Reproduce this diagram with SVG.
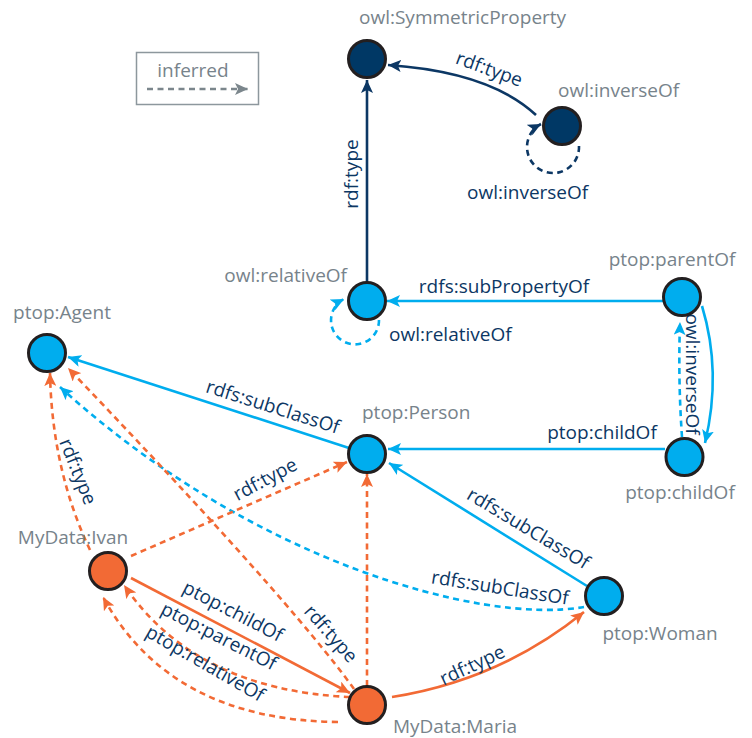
<svg xmlns="http://www.w3.org/2000/svg" width="752" height="738" viewBox="0 0 752 738">
<style>
text{font-family:"Open Sans","Noto Sans","Liberation Sans",sans-serif;font-size:19px}
.nl{fill:#77838b}
.el{fill:#0c3764}
.node{stroke:#231f20;stroke-width:3}
.navy{fill:#003865}
.blue{fill:#00adee}
.orange{fill:#f26a35}
.e{fill:none;stroke-width:2.6}
.d{stroke-dasharray:6 4.5}
.cn{stroke:#0c3764}
.cb{stroke:#00adee}
.co{stroke:#f26a35}
</style>
<defs>
<marker id="an" markerUnits="userSpaceOnUse" markerWidth="14" markerHeight="12" refX="13" refY="6" orient="auto"><path d="M0,0 L13,6 L0,12 L3,6 z" fill="#0c3764"/></marker>
<marker id="ab" markerUnits="userSpaceOnUse" markerWidth="14" markerHeight="12" refX="13" refY="6" orient="auto"><path d="M0,0 L13,6 L0,12 L3,6 z" fill="#00adee"/></marker>
<marker id="ao" markerUnits="userSpaceOnUse" markerWidth="14" markerHeight="12" refX="13" refY="6" orient="auto"><path d="M0,0 L13,6 L0,12 L3,6 z" fill="#f26a35"/></marker>
<marker id="ag" markerUnits="userSpaceOnUse" markerWidth="14" markerHeight="12" refX="13" refY="6" orient="auto"><path d="M0,0 L13,6 L0,12 L3,6 z" fill="#7b868c"/></marker>
</defs>
<g id="legend">
<rect x="136.5" y="52.5" width="122" height="52" fill="none" stroke="#8d979d" stroke-width="1.5"/>
<text x="193" y="77" text-anchor="middle" class="nl">inferred</text>
<path d="M147 89 L248 89" fill="none" stroke="#7b868c" stroke-width="2.6" stroke-dasharray="6 4.5" marker-end="url(#ag)"/>
</g>
<g id="connectors">
<path class="e cn" d="M367 282 L367 80" marker-end="url(#an)"/>
<path class="e cn" d="M536 115 Q490 72 388 65" marker-end="url(#an)"/>
<path class="e cn d" d="M579 146 A26 26 0 1 1 541 124" marker-end="url(#an)"/>
<path class="e cb" d="M663 301 L387 301" marker-end="url(#ab)"/>
<path class="e cb d" d="M379 320 A24 24 0 1 1 344 299" marker-end="url(#ab)"/>
<path class="e cb" d="M702 306 Q722 372 705 443" marker-end="url(#ab)"/>
<path class="e cb d" d="M682 437 Q678 380 680 322" marker-end="url(#ab)"/>
<path class="e cb" d="M665 449 L388 449" marker-end="url(#ab)"/>
<path class="e cb" d="M349 448 L68 357" marker-end="url(#ab)"/>
<path class="e cb" d="M587 586 L389 463" marker-end="url(#ab)"/>
<path class="e cb d" d="M584 607 C480 625 250 560 60 387" marker-end="url(#ab)"/>
<path class="e co d" d="M90 550 Q52 470 50 373" marker-end="url(#ao)"/>
<path class="e co d" d="M354 689 Q290 600 68 368" marker-end="url(#ao)"/>
<path class="e co d" d="M131 556 L347 462" marker-end="url(#ao)"/>
<path class="e co d" d="M367 686 L367 474" marker-end="url(#ao)"/>
<path class="e co" d="M131 578 L350 693" marker-end="url(#ao)"/>
<path class="e co d" d="M350 697 Q195 690 124 585" marker-end="url(#ao)"/>
<path class="e co d" d="M338 722 Q170 720 103 597" marker-end="url(#ao)"/>
<path class="e co" d="M392 697 Q500 680 584 612" marker-end="url(#ao)"/>
</g>
<g id="edge-labels">
<text class="el" transform="translate(487,75) rotate(20)" text-anchor="middle">rdf:type</text>
<text class="el" transform="translate(358,174) rotate(-90)" text-anchor="middle">rdf:type</text>
<text class="el" x="467" y="199">owl:inverseOf</text>
<text class="el" x="504" y="293" text-anchor="middle">rdfs:subPropertyOf</text>
<text class="el" x="389" y="341">owl:relativeOf</text>
<text class="el" transform="translate(686,374) rotate(90)" text-anchor="middle">owl:inverseOf</text>
<text class="el" x="602" y="439" text-anchor="middle">ptop:childOf</text>
<text class="el" transform="translate(271,413) rotate(17.6)" text-anchor="middle">rdfs:subClassOf</text>
<text class="el" transform="translate(72,474) rotate(68)" text-anchor="middle">rdf:type</text>
<text class="el" transform="translate(268,485) rotate(-28)" text-anchor="middle">rdf:type</text>
<text class="el" transform="translate(525,534) rotate(31)" text-anchor="middle">rdfs:subClassOf</text>
<text class="el" transform="translate(499,594) rotate(9)" text-anchor="middle">rdfs:subClassOf</text>
<text class="el" transform="translate(475,671) rotate(-25)" text-anchor="middle">rdf:type</text>
<text class="el" transform="translate(230,617) rotate(27.4)" text-anchor="middle">ptop:childOf</text>
<text class="el" transform="translate(216,642) rotate(27)" text-anchor="middle">ptop:parentOf</text>
<text class="el" transform="translate(202,669) rotate(30)" text-anchor="middle">ptop:relativeOf</text>
<text class="el" transform="translate(326,638) rotate(48.5)" text-anchor="middle">rdf:type</text>
</g>
<g id="n-symmetric"><circle class="node navy" cx="367" cy="59" r="18.5"/><text class="nl" x="359" y="24">owl:SymmetricProperty</text></g>
<g id="n-inverseOf"><circle class="node navy" cx="562" cy="126" r="18.5"/><text class="nl" x="558" y="97">owl:inverseOf</text></g>
<g id="n-relativeOf"><circle class="node blue" cx="367" cy="301" r="18.5"/><text class="nl" x="347" y="282" text-anchor="end">owl:relativeOf</text></g>
<g id="n-parentOf"><circle class="node blue" cx="682" cy="297" r="18.5"/><text class="nl" x="672" y="266" text-anchor="middle">ptop:parentOf</text></g>
<g id="n-childOf"><circle class="node blue" cx="684.5" cy="457" r="18.5"/><text class="nl" x="680" y="499" text-anchor="middle">ptop:childOf</text></g>
<g id="n-person"><circle class="node blue" cx="367" cy="454" r="18.5"/><text class="nl" x="362" y="419">ptop:Person</text></g>
<g id="n-agent"><circle class="node blue" cx="47" cy="353" r="18.5"/><text class="nl" x="62" y="319" text-anchor="middle">ptop:Agent</text></g>
<g id="n-woman"><circle class="node blue" cx="604" cy="596" r="18.5"/><text class="nl" x="660" y="640" text-anchor="middle">ptop:Woman</text></g>
<g id="n-ivan"><circle class="node orange" cx="108" cy="571" r="18.5"/><text class="nl" x="73" y="544" text-anchor="middle">MyData:Ivan</text></g>
<g id="n-maria"><circle class="node orange" cx="367" cy="705" r="18.5"/><text class="nl" x="455" y="733" text-anchor="middle">MyData:Maria</text></g>
</svg>
